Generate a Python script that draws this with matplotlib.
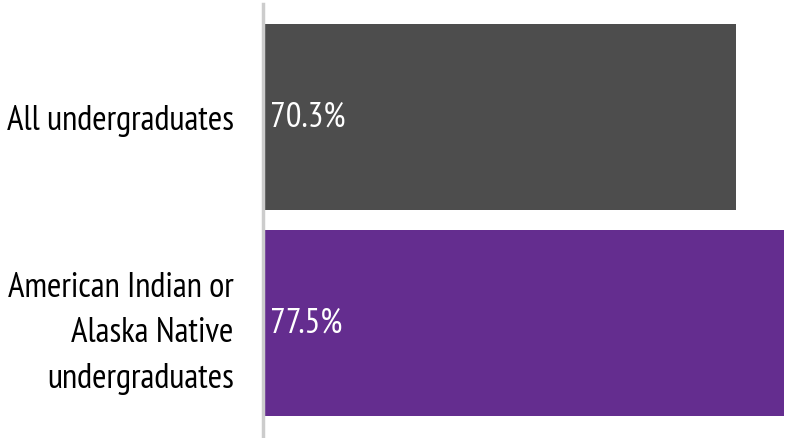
import matplotlib
matplotlib.use("Agg")
import matplotlib.pyplot as plt

categories = ["All undergraduates", "American Indian or\nAlaska Native\nundergraduates"]
values = [70.3, 77.5]
value_labels = ["70.3%", "77.5%"]
colors = ["#4d4d4d", "#642d8f"]

plt.rcParams['font.family'] = ["PT Sans Narrow", 'DejaVu Sans']

W, H = 789, 438
fig = plt.figure(figsize=(W / 100, H / 100), dpi=100)
ax = fig.add_axes([263 / W, 0, (784 - 263) / W, (438 - 4) / H])

y = list(range(len(categories)))
ax.barh(y, values, height=0.903, color=colors)
ax.set_xlim(0, 77.5)
ax.set_ylim(1.558, -0.549)

for yi, lab in zip(y, value_labels):
    ax.text(1.0, yi, lab, color="white", fontsize=25, va="center", ha="left")

ax.set_yticks(y)
ax.set_yticklabels(categories, fontsize=25, linespacing=1.55, ha="right")
ax.tick_params(axis="y", length=0, pad=21)
ax.set_xticks([])
for s in ["top", "right", "bottom"]:
    ax.spines[s].set_visible(False)
ax.spines["left"].set_color("#cccccc")
ax.spines["left"].set_linewidth(2.5)

fig.savefig("out.png", dpi=100)
